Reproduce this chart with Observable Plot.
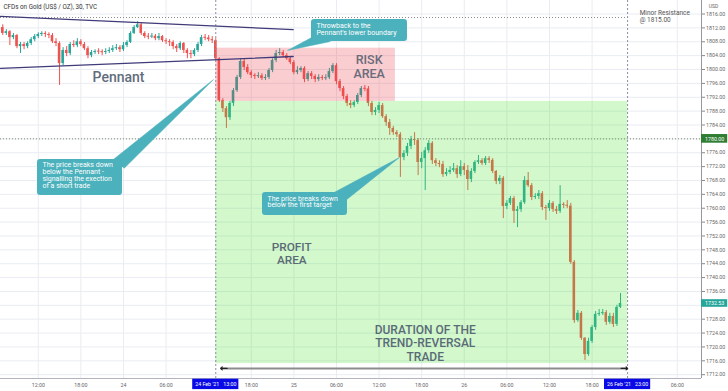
<!DOCTYPE html>
<html><head><meta charset="utf-8">
<script src="https://cdn.jsdelivr.net/npm/d3@7"></script>
<script src="https://cdn.jsdelivr.net/npm/@observablehq/plot@0.6"></script>
<style>body{margin:0;background:#fff} svg{display:block;font-variant-ligatures:none} svg text{font-variant-ligatures:none}</style>
</head><body><div id="chart"></div>
<script>
// ---- data ----
const firstHour = -17;          // hours relative to 24 Feb 00:00 of the first 30-min candle
const stepHours = 0.5;
const firstOpen = 1812.1;
const close = [1810.4,1810.9,1809.2,1809.8,1806.6,1807.2,1806.6,1807.5,1808.6,1809.5,
1810.1,1810.4,1810.1,1809.8,1808.0,1807.5,1801.7,1805.5,1804.6,1807.2,
1806.9,1808.0,1807.2,1806.0,1804.0,1804.9,1805.2,1805.1,1804.9,1805.2,
1805.5,1806.0,1806.3,1805.7,1806.9,1807.8,1810.4,1812.1,1812.9,1810.4,
1809.5,1809.4,1809.6,1808.9,1809.5,1808.3,1808.0,1807.8,1806.6,1806.0,
1807.5,1805.5,1804.6,1804.3,1805.5,1807.2,1809.2,1809.1,1808.6,1808.3,
1803.1,1791.0,1788.7,1786.1,1790.2,1793.9,1797.7,1802.3,1800.6,1799.1,
1798.3,1798.0,1798.2,1797.4,1797.7,1799.7,1802.6,1804.6,1804.9,1804.0,
1803.1,1802.0,1799.1,1799.7,1800.3,1797.1,1798.8,1798.0,1797.1,1797.7,
1797.4,1797.6,1799.4,1801.1,1796.5,1794.5,1792.2,1790.2,1789.6,1790.5,
1792.5,1794.5,1794.4,1790.2,1787.6,1788.2,1789.6,1786.4,1784.7,1783.0,
1781.8,1781.2,1774.6,1775.8,1777.8,1779.8,1779.5,1773.2,1774.3,1776.6,
1778.7,1773.7,1772.9,1772.6,1769.7,1770.3,1770.9,1771.4,1769.7,1772.0,
1770.9,1768.3,1770.6,1773.2,1773.7,1772.9,1774.3,1773.8,1770.6,1767.7,
1768.6,1760.5,1761.4,1762.8,1759.1,1759.6,1761.6,1768.0,1766.5,1763.1,
1763.4,1764.2,1760.2,1759.9,1761.4,1759.6,1759.1,1761.1,1760.8,1760.6,
1744.4,1727.6,1729.7,1722.5,1717.8,1721.6,1725.6,1729.4,1729.6,1729.9,
1727.1,1728.8,1726.5,1731.4,1732.53];
const high = [1812.9,1811.5,1811.2,1810.4,1810.1,1807.8,1807.8,1808.0,1809.2,1810.1,
1810.6,1810.9,1810.9,1810.6,1810.4,1808.9,1808.0,1806.3,1806.6,1807.8,
1808.3,1808.9,1808.6,1807.8,1806.6,1805.5,1805.7,1806.0,1805.7,1806.0,
1806.3,1806.9,1807.2,1806.9,1807.8,1808.3,1810.9,1812.7,1813.8,1813.5,
1810.9,1810.4,1810.4,1810.1,1810.4,1809.8,1808.9,1808.6,1808.3,1807.2,
1808.0,1807.8,1806.0,1805.5,1806.0,1807.8,1809.8,1810.1,1809.8,1809.5,
1808.9,1803.4,1791.6,1789.3,1790.8,1794.5,1798.3,1803.1,1803.1,1801.4,
1799.7,1798.8,1799.1,1798.8,1798.5,1800.3,1803.1,1805.5,1806.0,1805.5,
1804.6,1803.7,1802.6,1800.8,1800.8,1800.8,1799.4,1799.4,1798.5,1798.5,
1798.3,1798.5,1800.3,1801.7,1801.7,1797.1,1795.1,1792.8,1791.0,1791.0,
1793.1,1795.1,1795.4,1795.1,1790.8,1789.0,1790.5,1790.2,1787.0,1785.6,
1783.6,1782.4,1781.8,1776.6,1778.7,1780.7,1781.8,1780.1,1776.1,1777.5,
1779.5,1779.2,1774.3,1773.7,1773.5,1771.4,1772.0,1772.9,1772.3,1773.7,
1772.9,1772.3,1771.4,1773.7,1775.2,1774.3,1774.9,1774.9,1774.3,1770.9,
1769.4,1769.1,1762.2,1763.4,1763.4,1760.5,1762.2,1769.1,1770.3,1767.1,
1764.2,1765.1,1764.8,1760.8,1762.2,1761.9,1760.5,1766.5,1761.6,1762.2,
1761.4,1744.9,1730.5,1730.2,1722.7,1722.5,1726.2,1730.2,1730.8,1730.8,
1730.5,1729.7,1729.7,1732.0,1735.4];
const low = [1809.8,1809.8,1806.9,1808.6,1806.0,1804.6,1805.7,1806.0,1806.9,1808.0,
1808.9,1809.5,1809.2,1808.9,1807.5,1806.6,1795.4,1801.1,1803.7,1804.0,
1806.3,1806.3,1806.6,1805.5,1803.1,1803.4,1804.3,1804.3,1804.0,1804.3,
1804.6,1804.9,1805.5,1804.9,1805.2,1806.3,1807.5,1810.1,1811.8,1809.8,
1808.9,1808.6,1808.9,1808.3,1808.3,1807.8,1807.2,1806.6,1805.7,1804.9,
1805.5,1804.6,1803.1,1803.1,1803.7,1804.9,1806.6,1808.3,1808.0,1807.5,
1802.6,1790.5,1787.6,1783.0,1785.3,1789.3,1793.4,1797.1,1799.7,1798.5,
1797.4,1797.1,1797.4,1796.8,1796.8,1797.1,1799.1,1802.0,1804.0,1803.4,
1802.6,1801.4,1798.5,1798.5,1799.1,1796.2,1796.5,1797.1,1796.2,1796.5,
1796.8,1796.8,1797.1,1798.8,1795.6,1793.6,1791.3,1789.3,1788.7,1789.0,
1789.9,1791.9,1793.6,1789.3,1786.7,1786.7,1787.3,1785.9,1783.6,1781.0,
1781.0,1780.4,1768.9,1773.7,1774.9,1776.9,1778.1,1769.4,1771.4,1765.1,
1775.8,1772.6,1772.0,1771.7,1768.9,1769.1,1769.7,1770.3,1768.6,1769.1,
1769.4,1765.1,1767.4,1770.0,1772.6,1772.3,1772.3,1772.9,1770.0,1766.8,
1766.8,1757.0,1759.6,1760.8,1755.6,1754.4,1758.8,1761.1,1766.0,1762.2,
1762.5,1762.5,1759.3,1756.5,1759.1,1758.8,1758.2,1758.5,1759.9,1759.9,
1743.8,1726.8,1727.1,1721.9,1716.1,1717.3,1721.0,1724.8,1728.8,1729.1,
1726.2,1726.5,1725.6,1725.9,1731.1];

const yTicks = [1712,1716,1720,1724,1728,1732,1736,1740,1744,1748,1752,1756,1760,1764,1768,1772,1776,1780,1784,1788,1792,1796,1800,1804,1808,1812,1816];
const xTicks = [-12,-6,0,6,18,24,30,36,42,48,54,60,66,78];
const xLabels = ["12:00","18:00","24","06:00","18:00","25","06:00","12:00","18:00","26","06:00","12:00","18:00","06:00"];
const markedTimes = [13, 71];
const markedLabels = ["24 Feb '21\u00a0\u00a0\u00a013:00", "26 Feb '21\u00a0\u00a0\u00a023:00"];
const resistance = 1815.00;
const support = 1780.00;
const lastPrice = 1732.53;
const pennantUpper = [[-17.32, 1815.3], [23.9, 1811.5]];
const pennantLower = [[-17.32, 1800.3], [23.9, 1803.75]];
const profitZone = {from: 13, to: 71, low: 1715.2, high: 1790.8};
const riskZone = {from: 13, to: 38.3, low: 1790.8, high: 1806.15};
const tradeSpan = {from: 13.7, to: 71, level: 1713.8};

// ---- build candles ----
const candles = close.map((c, i) => {
  const o = i ? close[i - 1] : firstOpen;
  const up = c >= o;
  let bLo = Math.min(o, c), bHi = Math.max(o, c);
  if (bHi - bLo < 0.3) { const m = (bHi + bLo) / 2; bLo = m - 0.15; bHi = m + 0.15; }
  return {h: firstHour + i * stepHours, o, c, hi: Math.max(high[i], o, c), lo: Math.min(low[i], o, c), up, bLo, bHi};
});

const UP = "#26a69a", DOWN = "#ef5350", TEAL = "#4bb1bc";
const FONT = "Roboto, 'Noto Sans', sans-serif";

const callouts = [
  {id: 1, lines: "Throwback to the\nPennant's lower boundary", x1: 26.48, x2: 40.0, y1: 1808.08, y2: 1814.42, tx: 27.18, ty: 1813.4,
   poly: [[26.76, 1809.52], [23.1, 1805.48], [29.15, 1808.08]]},
  {id: 2, lines: "The price breaks down\nbelow the Pennant -\nsignalling the exection\nof a short trade", x1: -12.11, x2: -0.14, y1: 1763.67, y2: 1774.05, tx: -11.41, ty: 1773.2,
   poly: [[-1.6, 1773.76], [12.68, 1797.12], [0.1, 1771.5]]},
  {id: 3, lines: "The price breaks down\nbelow the first target", x1: 19.58, x2: 31.55, y1: 1757.9, y2: 1764.54, tx: 20.28, ty: 1763.6,
   poly: [[29.4, 1764.25], [38.87, 1774.63], [31.5, 1762.6]]}
];
const polyPts = callouts.flatMap(c => c.poly.map(([x, y]) => ({id: c.id, x, y})));

const chart = Plot.plot({
  width: 728, height: 391,
  marginLeft: 0, marginRight: 27, marginTop: 0, marginBottom: 13,
  style: {fontFamily: FONT, background: "#fff", overflow: "visible", fontVariantLigatures: "none"},
  x: {domain: [-17.32, 81.41]},
  y: {domain: [1710.9, 1819.9]},
  marks: [
    Plot.gridX(xTicks, {stroke: "#e9ecf2", strokeOpacity: 1}),
    Plot.gridY(yTicks, {stroke: "#e9ecf2", strokeOpacity: 1}),
    // candles
    Plot.ruleX(candles, {x: "h", y1: "lo", y2: "hi", stroke: d => d.up ? UP : DOWN, strokeWidth: 1}),
    Plot.rect(candles, {x1: d => d.h - 0.18, x2: d => d.h + 0.18, y1: "bLo", y2: "bHi", fill: d => d.up ? UP : DOWN}),
    // position zones (translucent overlays)
    Plot.rect([profitZone], {x1: "from", x2: "to", y1: "low", y2: "high", fill: "rgb(75,227,51)", fillOpacity: 0.25}),
    Plot.rect([riskZone], {x1: "from", x2: "to", y1: "low", y2: "high", fill: "rgb(236,60,72)", fillOpacity: 0.26}),
    // levels
    Plot.ruleY([resistance], {x1: -17.32, x2: 71, stroke: "#8a8a8a", strokeDasharray: "1,2", strokeWidth: 1}),
    Plot.ruleY([support], {stroke: "#7a8a6a", strokeDasharray: "1,2", strokeWidth: 1}),
    Plot.ruleX(markedTimes, {stroke: "#8a8fa0", strokeDasharray: "2,2", strokeWidth: 1}),
    // pennant
    Plot.line(pennantUpper, {x: d => d[0], y: d => d[1], stroke: "#3f3a78", strokeWidth: 1.3}),
    Plot.line(pennantLower, {x: d => d[0], y: d => d[1], stroke: "#3f3a78", strokeWidth: 1.3}),
    // trade duration arrow
    Plot.ruleY([tradeSpan], {x1: "from", x2: "to", y: "level", stroke: "#8c8c8c", strokeWidth: 2}),
    Plot.arrow([tradeSpan], {x1: d => d.from + 0.9, x2: "from", y1: "level", y2: "level", stroke: "#222", strokeWidth: 1.2, headAngle: 90, headLength: 7}),
    Plot.arrow([tradeSpan], {x1: d => d.to - 0.9, x2: "to", y1: "level", y2: "level", stroke: "#222", strokeWidth: 1.2, headAngle: 90, headLength: 7}),
    // big labels
    Plot.text(["Pennant"], {x: -0.7, y: 1797.7, fontSize: 14, fill: "#5f6d7c", fontWeight: 500}),
    Plot.text(["RISK\nAREA"], {x: 34.6, y: 1800.9, fontSize: 12.5, lineHeight: 1.13, fill: "#6a6c7a", fontWeight: 500}),
    Plot.text(["PROFIT\nAREA"], {x: 23.7, y: 1746.9, fontSize: 11.8, lineHeight: 1.12, fill: "#5a6b77", fontWeight: 500}),
    Plot.text(["DURATION OF THE\nTREND-REVERSAL\nTRADE"], {x: 42.5, y: 1721.1, fontSize: 12, lineHeight: 1.13, fill: "#5a6b77", fontWeight: 500}),
    // callouts
    Plot.line(polyPts, {x: "x", y: "y", z: "id", fill: TEAL, stroke: TEAL, strokeWidth: 0.5, curve: "linear"}),
    Plot.rect(callouts, {x1: "x1", x2: "x2", y1: "y1", y2: "y2", fill: TEAL, rx: 3}),
    Plot.text(callouts, {x: "tx", y: "ty", text: "lines", fill: "#fff", fontSize: 7, lineHeight: 0.98, textAnchor: "start", lineAnchor: "top"}),
    // header texts
    Plot.text(["CFDs on Gold (US$ / OZ), 30, TVC"], {frameAnchor: "top-left", dx: 3, dy: 4, fontSize: 6.3, fill: "#333", textAnchor: "start", lineAnchor: "top"}),
    Plot.text(["Minor Resistance\n@ 1815.00"], {x: 72.7, y: 1817.1, fontSize: 6.5, lineHeight: 1.05, fill: "#555", textAnchor: "start", lineAnchor: "top"}),
    // axes
    Plot.axisY(yTicks, {anchor: "right", tickFormat: d => (Math.abs(d - lastPrice) < 2 || d === support) ? "" : d.toFixed(2), tickSize: 3, tickPadding: 1.5, fontSize: 5.3, fill: "#666", stroke: "#888", label: null}),
    Plot.axisX(xTicks, {tickFormat: d => xLabels[xTicks.indexOf(d)], tickSize: 0, tickPadding: 4.5, fontSize: 5.3, fill: "#666", label: null}),
    Plot.ruleX([81.41], {stroke: "#9598a1", strokeWidth: 1}),
    Plot.ruleY([1710.9], {stroke: "#b2b5be", strokeWidth: 1}),
    Plot.text(["USD"], {x: 83.1, y: 1818.2, fontSize: 5, fill: "#666"}),
    // highlighted price labels
    Plot.rect([support], {x1: 81.41, x2: 85.1, y1: d => d - 1.25, y2: d => d + 1.25, fill: "#2e7d32"}),
    Plot.text([support], {x: 81.9, y: d => d, text: d => d.toFixed(2), fill: "#fff", fontSize: 5.3, textAnchor: "start"}),
    Plot.rect([lastPrice], {x1: 81.41, x2: 85.1, y1: d => d - 1.1, y2: d => d + 1.1, fill: UP}),
    Plot.text([lastPrice], {x: 81.9, y: d => d, text: d => d.toFixed(2), fill: "#fff", fontSize: 5.3, textAnchor: "start"}),
    // highlighted time labels
    Plot.rect(markedTimes, {x1: d => d - 3.25, x2: d => d + 3.25, y1: 1707.7, y2: 1710.7, fill: "#0a0ae6"}),
    Plot.text(markedTimes, {x: d => d, y: 1709.2, text: d => markedLabels[markedTimes.indexOf(d)], fill: "#fff", fontSize: 5.3})
  ]
});
document.getElementById("chart").appendChild(chart);
</script>
</body></html>
